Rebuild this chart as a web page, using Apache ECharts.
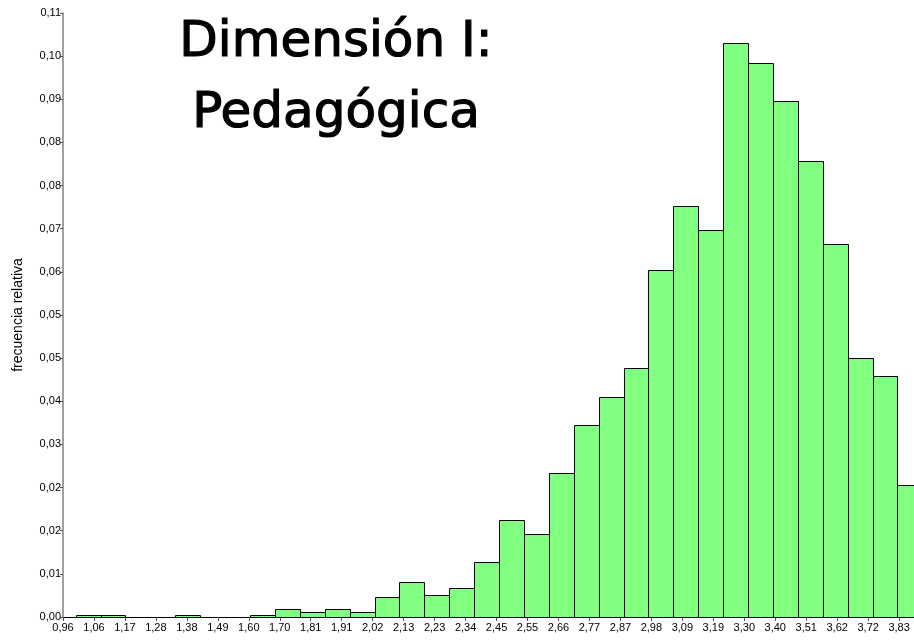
<!DOCTYPE html>
<html>
<head>
<meta charset="utf-8">
<script src="https://cdn.jsdelivr.net/npm/echarts@6/dist/echarts.min.js"></script>
<style>
  html, body { margin: 0; padding: 0; background: #fff; }
  #main { width: 914px; height: 642px; }
</style>
</head>
<body>
<div id="main"></div>
<script type="text/javascript">
// etiquetas del eje x (valor medio de la dimension)
var xLabels = ['0,96', '1,06', '1,17', '1,28', '1,38', '1,49', '1,60', '1,70', '1,81', '1,91',
  '2,02', '2,13', '2,23', '2,34', '2,45', '2,55', '2,66', '2,77', '2,87', '2,98',
  '3,09', '3,19', '3,30', '3,40', '3,51', '3,62', '3,72', '3,83'];
var xTickStart = 0.9563;
var xTickStep = 0.1066;

// etiquetas del eje y (frecuencia relativa)
var yLabels = ['0,00', '0,01', '0,02', '0,02', '0,03', '0,04', '0,05', '0,05',
  '0,06', '0,07', '0,08', '0,08', '0,09', '0,10', '0,11'];
var yStep = 0.0075;

// histograma: intervalos de igual ancho desde binMin
var binMin = 1;
var binWidth = 3 / 35;
var freq = [0.0004, 0.0004, 0, 0, 0.0004, 0, 0, 0.0004, 0.00134, 0.00092,
  0.00134, 0.00092, 0.00347, 0.00603, 0.00387, 0.00499, 0.00955, 0.0168, 0.01437, 0.02496,
  0.0333, 0.03827, 0.0433, 0.0604, 0.07144, 0.06727, 0.09976, 0.09623, 0.08975, 0.07933,
  0.06479, 0.04494, 0.04181, 0.02288];

var bins = [];
for (var i = 0; i < freq.length; i++) {
  var s = binMin + i * binWidth;
  bins.push([(s - xTickStart) / xTickStep, (s + binWidth - xTickStart) / xTickStep, freq[i]]);
}

var chart = echarts.init(document.getElementById('main'));

var labelFont = {
  fontFamily: '"Liberation Sans", Arial, sans-serif',
  fontSize: 11,
  color: '#000'
};

chart.setOption({
  animation: false,
  grid: { left: 63, right: 0, top: 13, bottom: 25 },
  graphic: [{
    type: 'text',
    x: 336,
    y: 8,
    style: {
      text: 'Dimensión I:\nPedagógica',
      font: '50px "DejaVu Sans", sans-serif',
      fill: '#000',
      stroke: '#000',
      lineWidth: 1.2,
      align: 'center',
      verticalAlign: 'top',
      lineHeight: 71
    },
    z: 10
  }],
  xAxis: {
    type: 'value',
    min: 0,
    max: 27.48,
    interval: 1,
    splitLine: { show: false },
    axisLine: { lineStyle: { color: '#000', width: 1 } },
    axisTick: { length: 4, lineStyle: { color: '#555' } },
    axisLabel: Object.assign({
      margin: 5,
      showMaxLabel: false,
      formatter: function (v) {
        return Number.isInteger(v) && xLabels[v] ? xLabels[v] : '';
      }
    }, labelFont)
  },
  yAxis: {
    type: 'value',
    min: 0,
    max: 0.105,
    interval: yStep,
    name: 'frecuencia relativa',
    nameLocation: 'middle',
    nameGap: 38,
    nameTextStyle: {
      fontFamily: '"Liberation Sans", Arial, sans-serif',
      fontSize: 14,
      color: '#000'
    },
    splitLine: { show: false },
    axisLine: { lineStyle: { color: '#808080', width: 1.5 } },
    axisTick: { length: 3, lineStyle: { color: '#555' } },
    axisLabel: Object.assign({
      margin: 2,
      formatter: function (v) {
        var k = Math.round(v / yStep);
        return yLabels[k] !== undefined ? yLabels[k] : '';
      }
    }, labelFont)
  },
  series: [{
    type: 'custom',
    data: bins,
    encode: { x: [0, 1], y: 2 },
    renderItem: function (params, api) {
      if (!api.value(2)) return;
      var p0 = api.coord([api.value(0), api.value(2)]);
      var p1 = api.coord([api.value(1), 0]);
      var x0 = Math.round(p0[0]) + 0.5;
      var x1 = Math.round(p1[0]) + 0.5;
      var y0 = Math.round(p0[1]) + 0.5;
      var y1 = Math.round(p1[1]) + 0.5;
      return {
        type: 'rect',
        shape: { x: x0, y: y0, width: x1 - x0, height: y1 - y0 },
        style: { fill: '#80ff80', stroke: '#000', lineWidth: 1 }
      };
    }
  }]
});
</script>
</body>
</html>
